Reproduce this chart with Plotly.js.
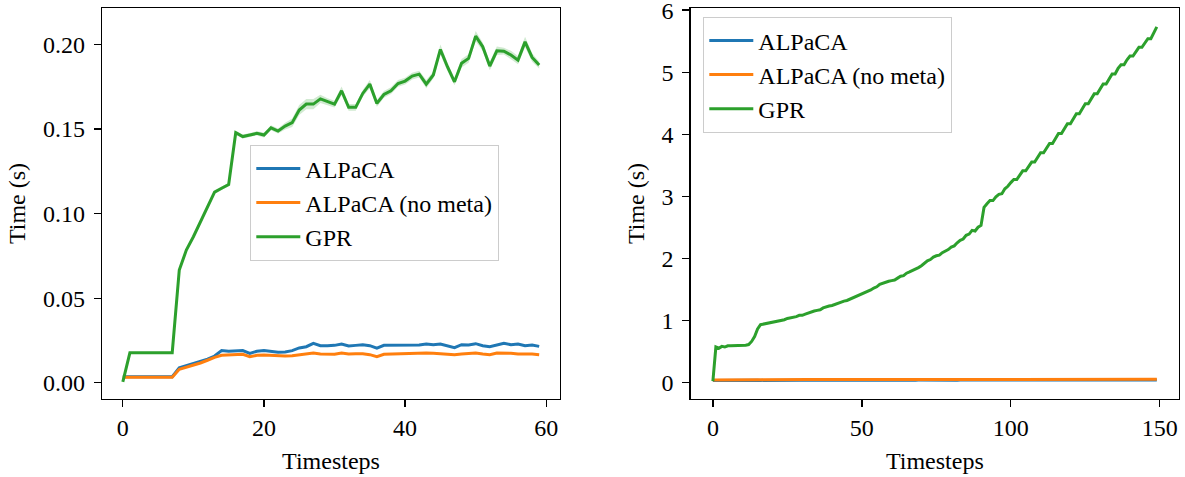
<!DOCTYPE html>
<html>
<head>
<meta charset="utf-8">
<script src="https://cdn.plot.ly/plotly-3.0.1.min.js"></script>
<style>html,body{margin:0;padding:0;background:#fff;}#chart{width:1185px;height:477px;}</style>
</head>
<body>
<div id="chart"></div>
<script>
// ---------- Data ----------
const seriesNames = ['ALPaCA', 'ALPaCA (no meta)', 'GPR'];
const xTitle = 'Timesteps';
const yTitle = 'Time (s)';

// Left panel: 60 timesteps
const leftAlpaca = [
  0.0036,0.0036,0.0036,0.0036,0.0036,0.0036,0.0036,0.0036,0.0089,0.0101,
  0.0112,0.0125,0.0140,0.0158,0.0190,0.0186,0.0188,0.0190,0.0174,0.0186,
  0.0190,0.0186,0.0180,0.0182,0.0190,0.0206,0.0213,0.0233,0.0219,0.0219,
  0.0221,0.0229,0.0217,0.0221,0.0225,0.0219,0.0205,0.0221,0.0221,0.0221,
  0.0223,0.0221,0.0223,0.0229,0.0225,0.0229,0.0219,0.0207,0.0225,0.0223,
  0.0231,0.0219,0.0213,0.0223,0.0233,0.0225,0.0229,0.0219,0.0223,0.0215
];
const leftNoMeta = [
  0.0033,0.0033,0.0033,0.0033,0.0033,0.0033,0.0033,0.0033,0.0080,0.0092,
  0.0104,0.0117,0.0133,0.0150,0.0162,0.0164,0.0164,0.0168,0.0154,0.0162,
  0.0164,0.0162,0.0156,0.0158,0.0160,0.0166,0.0170,0.0176,0.0170,0.0170,
  0.0168,0.0176,0.0170,0.0172,0.0172,0.0166,0.0154,0.0168,0.0170,0.0170,
  0.0170,0.0172,0.0176,0.0176,0.0174,0.0172,0.0170,0.0166,0.0170,0.0172,
  0.0176,0.0170,0.0166,0.0176,0.0176,0.0174,0.0170,0.0172,0.0170,0.0166
];
const leftGPR = [
  0.0005,0.0177,0.0177,0.0177,0.0180,0.0178,0.0177,0.0178,0.0666,0.0784,
  0.0863,0.0952,0.1040,0.1127,0.1150,0.1172,0.1478,0.1455,0.1464,0.1474,
  0.1464,0.1507,0.1488,0.1517,0.1537,0.1612,0.1647,0.1647,0.1678,0.1661,
  0.1647,0.1726,0.1628,0.1628,0.1710,0.1765,0.1651,0.1704,0.1726,0.1769,
  0.1783,0.1813,0.1824,0.1765,0.1819,0.1970,0.1868,0.1779,0.1888,0.1917,
  0.2049,0.1986,0.1872,0.1962,0.1960,0.1937,0.1907,0.2015,0.1923,0.1878
];
const leftGPRBand = [
  0.0003,0.0005,0.0005,0.0005,0.0006,0.0005,0.0005,0.0005,0.0010,0.0010,
  0.0010,0.0010,0.0010,0.0010,0.0010,0.0010,0.0012,0.0012,0.0012,0.0012,
  0.0015,0.0015,0.0015,0.0020,0.0025,0.0030,0.0030,0.0030,0.0025,0.0020,
  0.0020,0.0025,0.0020,0.0020,0.0020,0.0025,0.0020,0.0020,0.0020,0.0020,
  0.0020,0.0020,0.0020,0.0025,0.0020,0.0030,0.0025,0.0020,0.0025,0.0025,
  0.0030,0.0025,0.0025,0.0025,0.0020,0.0025,0.0025,0.0030,0.0025,0.0020
];

// Right panel: 150 timesteps
const rightAlpaca = [
  0.030,0.031,0.031,0.032,0.031,0.032,0.032,0.031,0.032,0.033,
  0.032,0.033,0.032,0.033,0.034,0.033,0.032,0.033,0.034,0.033,
  0.034,0.033,0.034,0.035,0.034,0.033,0.034,0.035,0.034,0.035,
  0.034,0.035,0.034,0.033,0.034,0.035,0.034,0.035,0.034,0.035,
  0.035,0.034,0.035,0.036,0.035,0.034,0.035,0.036,0.035,0.034,
  0.035,0.036,0.035,0.036,0.035,0.034,0.035,0.036,0.035,0.036,
  0.036,0.035,0.036,0.035,0.036,0.037,0.036,0.035,0.036,0.037,
  0.036,0.037,0.036,0.035,0.036,0.037,0.036,0.037,0.036,0.035,
  0.036,0.037,0.036,0.037,0.038,0.037,0.036,0.037,0.036,0.037,
  0.037,0.036,0.037,0.038,0.037,0.036,0.037,0.038,0.037,0.036,
  0.037,0.038,0.037,0.036,0.037,0.038,0.037,0.038,0.037,0.036,
  0.037,0.038,0.037,0.038,0.039,0.038,0.037,0.038,0.037,0.038,
  0.038,0.037,0.038,0.039,0.038,0.037,0.038,0.039,0.038,0.037,
  0.038,0.039,0.038,0.037,0.038,0.039,0.038,0.039,0.038,0.037,
  0.038,0.039,0.038,0.039,0.040,0.039,0.038,0.039,0.038,0.039
];
const rightNoMeta = [
  0.040,0.041,0.042,0.041,0.042,0.043,0.042,0.041,0.042,0.043,
  0.042,0.043,0.044,0.043,0.042,0.043,0.044,0.043,0.044,0.045,
  0.044,0.043,0.044,0.045,0.044,0.045,0.044,0.043,0.044,0.045,
  0.044,0.045,0.046,0.045,0.044,0.045,0.044,0.045,0.046,0.045,
  0.045,0.044,0.045,0.046,0.045,0.046,0.045,0.044,0.045,0.046,
  0.045,0.046,0.045,0.046,0.047,0.046,0.045,0.046,0.045,0.046,
  0.046,0.045,0.046,0.047,0.046,0.045,0.046,0.047,0.046,0.047,
  0.046,0.047,0.046,0.045,0.046,0.047,0.046,0.047,0.048,0.047,
  0.046,0.047,0.046,0.047,0.048,0.047,0.046,0.047,0.046,0.047,
  0.047,0.046,0.047,0.048,0.047,0.046,0.047,0.048,0.047,0.048,
  0.047,0.048,0.047,0.046,0.047,0.048,0.047,0.048,0.049,0.048,
  0.047,0.048,0.047,0.048,0.049,0.048,0.047,0.048,0.047,0.048,
  0.048,0.047,0.048,0.049,0.048,0.047,0.048,0.049,0.048,0.049,
  0.048,0.049,0.048,0.047,0.048,0.049,0.048,0.049,0.050,0.049,
  0.048,0.049,0.048,0.049,0.050,0.049,0.048,0.049,0.048,0.049
];
const rightGPR = [
  0.02,0.57,0.55,0.58,0.57,0.59,0.59,0.59,0.60,0.60,
  0.60,0.60,0.61,0.66,0.74,0.86,0.93,0.94,0.95,0.96,
  0.96,0.98,0.99,0.99,1.01,1.03,1.04,1.04,1.06,1.08,
  1.08,1.10,1.12,1.13,1.15,1.16,1.17,1.20,1.22,1.23,
  1.24,1.26,1.27,1.29,1.31,1.32,1.34,1.36,1.38,1.40,
  1.42,1.45,1.47,1.49,1.52,1.54,1.58,1.60,1.61,1.63,
  1.64,1.65,1.68,1.71,1.72,1.76,1.78,1.80,1.83,1.85,
  1.88,1.92,1.96,1.98,2.02,2.04,2.05,2.09,2.11,2.14,
  2.18,2.20,2.25,2.29,2.31,2.37,2.39,2.45,2.44,2.50,
  2.53,2.82,2.88,2.93,2.93,2.99,3.03,3.04,3.12,3.16,
  3.22,3.27,3.27,3.35,3.41,3.41,3.49,3.55,3.55,3.63,
  3.70,3.70,3.78,3.85,3.85,3.94,4.01,4.01,4.10,4.17,
  4.17,4.26,4.33,4.33,4.42,4.49,4.49,4.58,4.65,4.65,
  4.74,4.81,4.81,4.90,4.97,4.97,5.06,5.12,5.12,5.20,
  5.26,5.26,5.34,5.40,5.40,5.48,5.54,5.54,5.63,5.73
];

const leftTicksX = [0, 20, 40, 60];
const leftTicksY = [0, 0.05, 0.10, 0.15, 0.20];
const rightTicksX = [0, 50, 100, 150];
const rightTicksY = [0, 1, 2, 3, 4, 5, 6];

// ---------- Styling ----------
const colors = ['#1f77b4', '#ff7f0e', '#2ca02c'];
const FONT = 'Liberation Serif';
const FS = 24;
const LW = 3;

const stepsL = leftGPR.map((_, i) => i);
const stepsR = rightGPR.map((_, i) => i);
const gprLow = leftGPR.map((v, i) => v - leftGPRBand[i]);
const gprHigh = leftGPR.map((v, i) => v + leftGPRBand[i]);

const traces = [];
traces.push({x: stepsL, y: gprLow, xaxis: 'x', yaxis: 'y', mode: 'lines',
  line: {width: 0, color: 'rgba(44,160,44,0)'}, showlegend: false, hoverinfo: 'skip'});
traces.push({x: stepsL, y: gprHigh, xaxis: 'x', yaxis: 'y', mode: 'lines', fill: 'tonexty',
  fillcolor: 'rgba(44,160,44,0.22)', line: {width: 0, color: 'rgba(44,160,44,0)'},
  showlegend: false, hoverinfo: 'skip'});

const leftData = [leftAlpaca, leftNoMeta, leftGPR];
const rightData = [rightAlpaca, rightNoMeta, rightGPR];
leftData.forEach((d, k) => traces.push({
  x: stepsL, y: d, xaxis: 'x', yaxis: 'y', mode: 'lines', name: seriesNames[k],
  line: {color: colors[k], width: LW}, legend: 'legend', legendgroup: 'l' + k
}));
rightData.forEach((d, k) => traces.push({
  x: stepsR, y: d, xaxis: 'x2', yaxis: 'y2', mode: 'lines', name: seriesNames[k],
  line: {color: colors[k], width: LW}, legend: 'legend2', legendgroup: 'r' + k
}));

const W = 1185, H = 477;
const mT = 8, mB = 78;
const plotH = H - mT - mB;
const py = p => (H - mB - p) / plotH;

const axisCommon = {
  showline: true, mirror: true, linecolor: '#000', linewidth: 1.3,
  ticks: 'outside', ticklen: 7, tickwidth: 1.3, tickcolor: '#000',
  showgrid: false, zeroline: false, ticklabeloverflow: 'allow',
  tickfont: {family: FONT, size: FS, color: '#000'}
};
const legendCommon = {
  font: {family: FONT, size: FS, color: '#000'},
  bgcolor: 'rgba(255,255,255,0.8)', bordercolor: '#cccccc', borderwidth: 1.3,
  xanchor: 'left', yanchor: 'top', tracegroupgap: 0, itemwidth: 44
};

const layout = {
  width: W, height: H,
  margin: {l: 0, r: 0, t: mT, b: mB},
  paper_bgcolor: '#fff', plot_bgcolor: '#fff',
  showlegend: true,
  font: {family: FONT, size: FS, color: '#000'},
  xaxis: Object.assign({}, axisCommon, {
    domain: [102 / W, 560 / W], range: [-2.95, 61.95], anchor: 'y',
    tickvals: leftTicksX, ticktext: leftTicksX.map(String),
    title: {text: xTitle, font: {family: FONT, size: FS}, standoff: 12}
  }),
  yaxis: Object.assign({}, axisCommon, {
    range: [-0.0096, 0.2215], anchor: 'x',
    tickvals: leftTicksY, ticktext: leftTicksY.map(v => v.toFixed(2)),
    ticklabelstandoff: 4,
    title: {text: yTitle, font: {family: FONT, size: FS}, standoff: 10}
  }),
  xaxis2: Object.assign({}, axisCommon, {
    domain: [690.7 / W, 1179 / W], range: [-7.45, 156.45], anchor: 'y2',
    tickvals: rightTicksX, ticktext: rightTicksX.map(String),
    title: {text: xTitle, font: {family: FONT, size: FS}, standoff: 12}
  }),
  yaxis2: Object.assign({}, axisCommon, {
    range: [-0.268, 6.034], anchor: 'x2',
    tickvals: rightTicksY, ticktext: rightTicksY.map(String),
    ticklabelstandoff: 4,
    title: {text: yTitle, font: {family: FONT, size: FS}, standoff: 10}
  }),
  legend: Object.assign({}, legendCommon, {x: 250 / W, y: py(145)}),
  legend2: Object.assign({}, legendCommon, {x: 703 / W, y: py(17)})
};

Plotly.newPlot('chart', traces, layout, {staticPlot: true, displayModeBar: false});
</script>
</body>
</html>
